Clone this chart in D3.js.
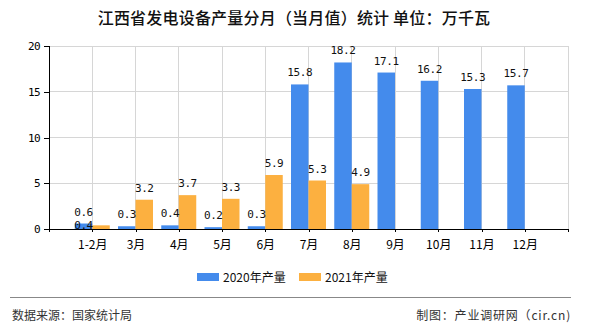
<!DOCTYPE html>
<html><head><meta charset="utf-8">
<script src="https://cdn.jsdelivr.net/npm/d3@7/dist/d3.min.js"></script>
<style>body{margin:0;background:#fff;}svg{display:block;}</style>
</head><body>
<svg id="c" width="590" height="330"></svg>
<script>
const categories = ["1-2月","3月","4月","5月","6月","7月","8月","9月","10月","11月","12月"];
const values2020 = [0.6,0.3,0.4,0.2,0.3,15.8,18.2,17.1,16.2,15.3,15.7];
const values2021 = [0.4,3.2,3.7,3.3,5.9,5.3,4.9,null,null,null,null];
const seriesNames = ["2020年产量","2021年产量"];
const yTicks = [0,5,10,15,20];
const colors = ["#448bec","#fcb040"];

(function(){
const svg = d3.select("#c");
const W=590,H=330;
const mL=49,mR=568,mT=46,mB=229;
const monoFont = "'DejaVu Sans Mono','Liberation Mono',monospace";
const cjk = "'Noto Sans CJK SC','Noto Sans',sans-serif";

svg.append("rect").attr("width",W).attr("height",H).attr("fill","#fff");

// title
svg.append("text").attr("x",294).attr("y",24).attr("text-anchor","middle")
  .attr("font-family",cjk).attr("font-size",16).attr("font-weight",500).attr("fill","#111")
  .attr("letter-spacing","0.2")
  .text("江西省发电设备产量分月（当月值）统计 单位：万千瓦");

const domain = ["_s"].concat(categories).concat(["_e"]);
const x = d3.scalePoint().domain(domain).range([mL,mR]).padding(0);
const y = d3.scaleLinear().domain([0,20]).range([mB,mT]);

// grid
const g = svg.append("g");
g.selectAll("line.h").data(yTicks.filter(d=>d>0)).join("line")
  .attr("x1",mL).attr("x2",mR).attr("y1",d=>y(d)).attr("y2",d=>y(d))
  .attr("stroke","#d6d6d6").attr("stroke-width",1).attr("shape-rendering","crispEdges");
g.selectAll("line.v").data(domain.slice(1)).join("line")
  .attr("x1",d=>x(d)).attr("x2",d=>x(d)).attr("y1",mT).attr("y2",mB)
  .attr("stroke","#d6d6d6").attr("stroke-width",1).attr("shape-rendering","crispEdges");

// bars
const bw = 17.5;
const bars = svg.append("g");
categories.forEach((c,i)=>{
  const cx = x(c);
  if(values2020[i]!=null){
    bars.append("rect").attr("x",cx-bw).attr("width",bw)
      .attr("y",y(values2020[i])).attr("height",mB-y(values2020[i])).attr("fill",colors[0]);
  }
  if(values2021[i]!=null){
    bars.append("rect").attr("x",cx).attr("width",bw)
      .attr("y",y(values2021[i])).attr("height",mB-y(values2021[i])).attr("fill",colors[1]);
  }
});

// axes
const yAxis = d3.axisLeft(y).tickValues(yTicks).tickSize(5).tickPadding(4).tickFormat(d3.format("d"));
const ya = svg.append("g").attr("transform",`translate(${mL},0)`).call(yAxis);
const xAxis = d3.axisBottom(x).tickValues(domain).tickSize(3).tickPadding(6)
  .tickFormat(d=>d.startsWith("_")?"":d);
const xa = svg.append("g").attr("transform",`translate(0,${mB})`).call(xAxis);
[ya,xa].forEach(a=>{
  a.select(".domain").attr("stroke","#000").attr("shape-rendering","crispEdges");
  a.selectAll(".tick line").attr("stroke","#000").attr("shape-rendering","crispEdges");
  a.selectAll("text").attr("fill","#000").attr("font-size",12);
});
ya.selectAll("text").attr("font-family",monoFont).attr("font-size",11).attr("letter-spacing","-0.6");
xa.selectAll("text").attr("font-family",cjk).attr("font-size",12).attr("dy","0.9em");
xa.select(".domain").attr("d",`M${mL},0H${mR}`);

// value labels
const lab = svg.append("g").attr("font-family",monoFont).attr("font-size",11)
  .attr("letter-spacing","-0.4").attr("fill","#111").attr("text-anchor","middle");
categories.forEach((c,i)=>{
  const cx = x(c);
  let bx=null,by=null;
  if(values2020[i]!=null){
    bx = cx-bw/2; by = y(values2020[i])-8;
    lab.append("text").attr("x",bx).attr("y",by).text(values2020[i].toFixed(1));
  }
  if(values2021[i]!=null){
    let ox = cx+bw/2, oy = y(values2021[i])-8;
    if(bx!=null && Math.abs(oy-by)<12 && Math.abs(ox-bx)<22){ ox = bx; oy = by+13; }
    lab.append("text").attr("x",ox).attr("y",oy).text(values2021[i].toFixed(1));
  }
});

// legend
const leg = svg.append("g");
const legX = [197,299];
seriesNames.forEach((n,i)=>{
  leg.append("rect").attr("x",legX[i]).attr("y",273).attr("width",22).attr("height",8).attr("fill",colors[i]);
  leg.append("text").attr("x",legX[i]+26).attr("y",282).attr("font-family",cjk).attr("font-size",12)
    .attr("fill","#111").text(n);
});

// footer
svg.append("line").attr("x1",10).attr("x2",571).attr("y1",297.5).attr("y2",297.5)
  .attr("stroke","#888").attr("stroke-width",1.2);
svg.append("text").attr("x",12).attr("y",320).attr("font-family",cjk).attr("font-size",12)
  .attr("fill","#333").text("数据来源：国家统计局");
svg.append("text").attr("x",571).attr("y",320).attr("text-anchor","end").attr("font-family",cjk).attr("font-size",12)
  .attr("letter-spacing","0.8").attr("fill","#333").text("制图：产业调研网（cir.cn)");
})();
</script>
</body></html>
